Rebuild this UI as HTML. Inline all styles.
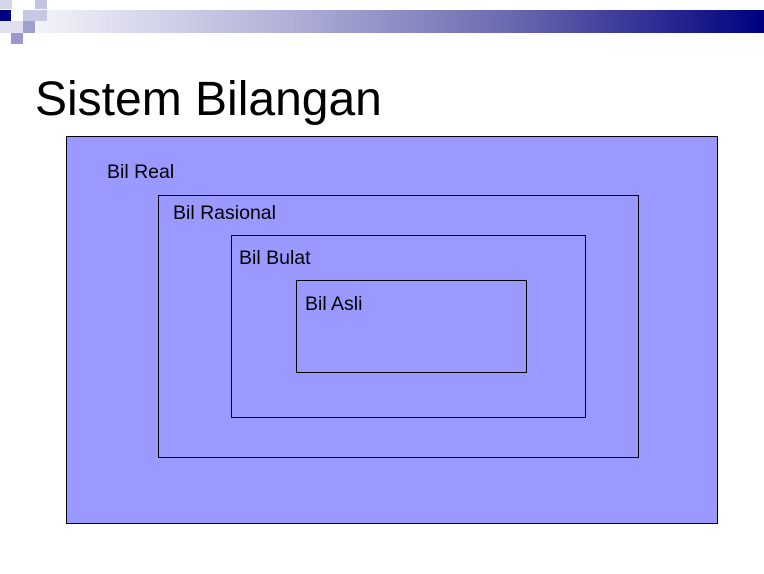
<!DOCTYPE html>
<html><head><meta charset="utf-8"><style>
body{margin:0;width:764px;height:574px;background:#fff;position:relative;overflow:hidden;font-family:"Liberation Sans",sans-serif}
.a{position:absolute}
.box{position:absolute;border:1px solid #000;box-sizing:border-box}
.lbl{position:absolute;font-size:19.5px;color:#000}
</style></head><body>
<div class="a" style="left:35px;top:10px;width:729px;height:23px;background:linear-gradient(to right,#f4f4fa,#b0b0d8 35%,#6a6ab0 65%,#000080)"></div>
<div class="a" style="left:0;top:0;width:12px;height:9px;background:#d6d6ea"></div>
<div class="a" style="left:35px;top:0;width:12px;height:9px;background:#c4c4e0"></div>
<div class="a" style="left:0;top:10px;width:11px;height:11px;background:#000080"></div>
<div class="a" style="left:23px;top:10px;width:24px;height:11px;background:#c8c8e4"></div>
<div class="a" style="left:0;top:21px;width:23px;height:12px;background:#e0e0f0"></div>
<div class="a" style="left:23px;top:21px;width:12px;height:12px;background:#a0a0d0"></div>
<div class="a" style="left:11px;top:33px;width:12px;height:11px;background:#9898cc"></div>
<div class="a" style="left:35px;top:72px;font-size:48px;line-height:56px">Sistem Bilangan</div>
<div class="box" style="left:66px;top:136px;width:652px;height:388px;background:#9999ff"></div>
<div class="lbl" style="left:107px;top:161px">Bil Real</div>
<div class="box" style="left:158px;top:195px;width:481px;height:263px"></div>
<div class="lbl" style="left:173px;top:202px">Bil Rasional</div>
<div class="box" style="left:231px;top:235px;width:355px;height:183px"></div>
<div class="lbl" style="left:239px;top:247px">Bil Bulat</div>
<div class="box" style="left:296px;top:280px;width:231px;height:93px"></div>
<div class="lbl" style="left:305px;top:293px">Bil Asli</div>
</body></html>
